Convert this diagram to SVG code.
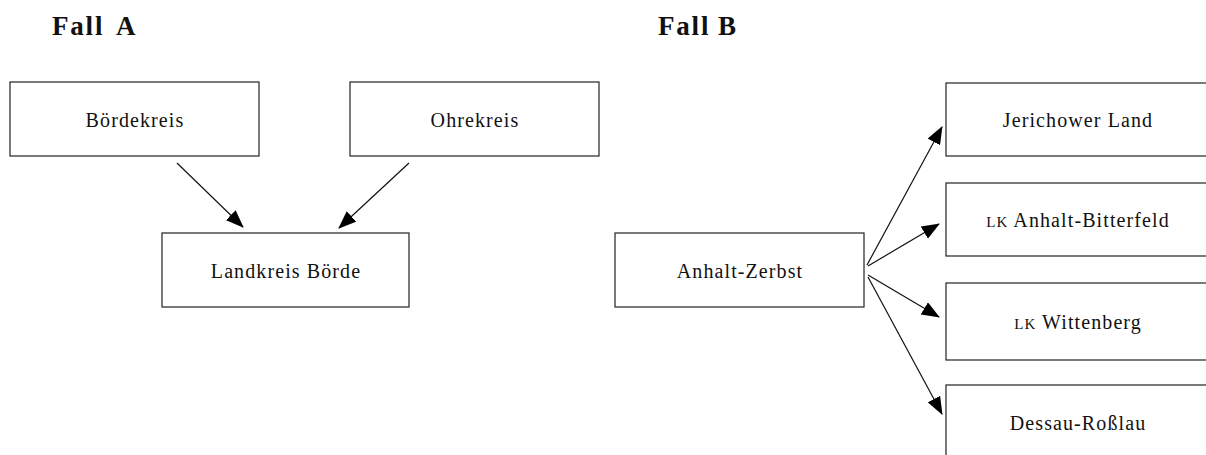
<svg xmlns="http://www.w3.org/2000/svg" width="1206" height="455" viewBox="0 0 1206 455">
<style>
.box{fill:#fff;stroke:#222;stroke-width:1.2}
.lbl{font-family:"Liberation Serif","DejaVu Serif",serif;font-size:20px;letter-spacing:1.1px;fill:#111;text-anchor:middle}
.sc{font-size:15px}
.ttl{font-family:"Liberation Serif","DejaVu Serif",serif;font-size:27px;letter-spacing:1.8px;font-weight:bold;fill:#111}
.con{stroke:#111;stroke-width:1.2;fill:none;marker-end:url(#ah)}
</style>
<defs>
<marker id="ah" markerUnits="userSpaceOnUse" markerWidth="18" markerHeight="14" refX="17" refY="7" orient="auto">
<path d="M0,0 L18,7 L0,14 Z" fill="#000"/>
</marker>
</defs>
<rect width="1206" height="455" fill="#fff"/>
<text class="ttl" x="52" y="35">Fall<tspan x="116">A</tspan></text>
<text class="ttl" x="658" y="35">Fall<tspan x="718">B</tspan></text>
<g id="boerdekreis"><rect class="box" x="10" y="82" width="249" height="74"/><text class="lbl" x="135" y="126.5">Bördekreis</text></g>
<g id="ohrekreis"><rect class="box" x="350" y="82" width="249" height="74"/><text class="lbl" x="475" y="126.5">Ohrekreis</text></g>
<g id="landkreis-boerde"><rect class="box" x="162" y="233" width="247" height="74"/><text class="lbl" x="286" y="277.5">Landkreis Börde</text></g>
<g id="anhalt-zerbst"><rect class="box" x="615" y="233" width="249" height="74"/><text class="lbl" x="740" y="277.5">Anhalt-Zerbst</text></g>
<g id="jerichower-land"><rect class="box" x="946" y="83" width="270" height="73"/><text class="lbl" x="1078" y="127">Jerichower Land</text></g>
<g id="lk-anhalt-bitterfeld"><rect class="box" x="946" y="183" width="270" height="73"/><text class="lbl" x="1078" y="227"><tspan class="sc">LK</tspan> Anhalt-Bitterfeld</text></g>
<g id="lk-wittenberg"><rect class="box" x="946" y="283" width="270" height="77"/><text class="lbl" x="1078" y="328.5"><tspan class="sc">LK</tspan> Wittenberg</text></g>
<g id="dessau-rosslau"><rect class="box" x="946" y="385" width="270" height="90"/><text class="lbl" x="1078" y="430">Dessau-Roßlau</text></g>
<g id="connectors">
<line class="con" x1="177" y1="163" x2="243" y2="227"/>
<line class="con" x1="409" y1="163" x2="339" y2="228"/>
<line class="con" x1="867" y1="265" x2="942" y2="127"/>
<line class="con" x1="868" y1="266" x2="939" y2="224"/>
<line class="con" x1="868" y1="275" x2="939" y2="317"/>
<line class="con" x1="868" y1="277" x2="942" y2="414"/>
</g>
</svg>
